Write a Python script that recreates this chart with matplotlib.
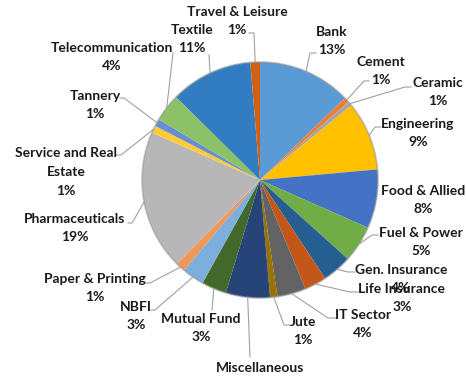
"""
Sector-wise share pie chart (Excel style, labels with leader lines).
"""

import numpy as np
import matplotlib.pyplot as plt

sectors = [
    "Bank", "Cement", "Ceramic", "Engineering", "Food & Allied",
    "Fuel & Power", "Gen. Insurance", "Life Insurance", "IT Sector", "Jute",
    "Miscellaneous", "Mutual Fund", "NBFI", "Paper & Printing",
    "Pharmaceuticals", "Service and Real\nEstate", "Tannery",
    "Telecommunication", "Textile", "Travel & Leisure",
]
shares = [
    12.7, 0.7, 0.6, 9.4, 8.0,
    5.0, 4.0, 3.0, 3.9, 1.0,
    6.0, 3.4, 3.0, 1.3,
    19.0, 1.0, 1.0,
    3.8, 11.2, 1.3,
]
colors = [
    "#5B9BD5", "#ED7D31", "#A5A5A5", "#FFC000", "#4472C4",
    "#70AD47", "#255E91", "#C5561A", "#636363", "#997300",
    "#264478", "#43682B", "#7CAFDD", "#F1975A",
    "#B7B7B7", "#FFCD33", "#698ED0",
    "#8CC168", "#327DC2", "#D26012",
]

# layout in pixel coords (y measured from the top)
W, H = 466, 379
center = (260, 180)
radius = 118
line_step = 18.7
label_pos = [
    (332, 41), (381, 71), (438, 92), (418, 133), (423, 200),
    (421, 242), (401, 279), (402, 298), (363, 324), (303, 331),
    (260, 368), (201, 328), (136, 316), (95, 288),
    (75, 228), (66, 172), (95, 105),
    (112, 57), (192, 39), (237, 21),
]
# leader line: (elbow point, stub end) or None
leaders = [
    ((310, 53), (316, 53)), ((364, 81), (369, 81)), ((405, 87), (411, 87)),
    ((375, 127), (381, 127)), None,
    ((372, 235), (378, 235)), ((348, 272), (355, 272)), ((350, 292), (358, 292)),
    ((328, 318), (336, 318)), ((284, 325), (290, 325)),
    ((250, 357), (250, 357)), ((212, 310), (212, 310)), ((155, 310), (151, 310)),
    ((150, 283), (146, 283)),
    ((132, 223), (128, 223)), ((121, 155), (116, 155)), ((124, 98), (120, 98)),
    ((173, 53), (173, 53)), ((209, 55), (209, 55)), ((254, 33), (249, 33)),
]


def to_data(p):
    return p[0], H - p[1]


fig = plt.figure(figsize=(W / 100, H / 100), dpi=100)
ax = fig.add_axes([0, 0, 1, 1])

cx, cy = to_data(center)
wedges, _ = ax.pie(
    shares,
    colors=colors,
    startangle=90,
    counterclock=False,
    center=(cx, cy),
    radius=radius,
    frame=True,
    wedgeprops=dict(linewidth=0),
)
ax.set_xlim(0, W)
ax.set_ylim(0, H)
ax.set_aspect("equal")
ax.axis("off")

# soft grey rim like the Excel bevel
ax.add_patch(plt.Circle((cx, cy), radius, fill=False, ec="#9A9A9A",
                        lw=1.2, alpha=0.6))

for name, val, pos, lead, w in zip(sectors, shares, label_pos, leaders, wedges):
    lines = name.split("\n")
    if name != "Miscellaneous":
        lines.append(f"{val:.0f}%")
    top = pos[1] - line_step * (len(lines) - 1) / 2
    for i, line in enumerate(lines):
        x, y = to_data((pos[0], top + i * line_step))
        ax.text(x, y, line, ha="center", va="center", fontsize=10,
                fontweight="bold", family="Lato", color="#1A1A1A")
    if lead is None:
        continue
    ang = np.deg2rad((w.theta1 + w.theta2) / 2)
    ex, ey = cx + radius * np.cos(ang), cy + radius * np.sin(ang)
    (bx, by), (sx, sy) = to_data(lead[0]), to_data(lead[1])
    ax.plot([ex, bx, sx], [ey, by, sy], color="#A0A0A0", lw=0.8)

fig.savefig("out.png", dpi=100)
